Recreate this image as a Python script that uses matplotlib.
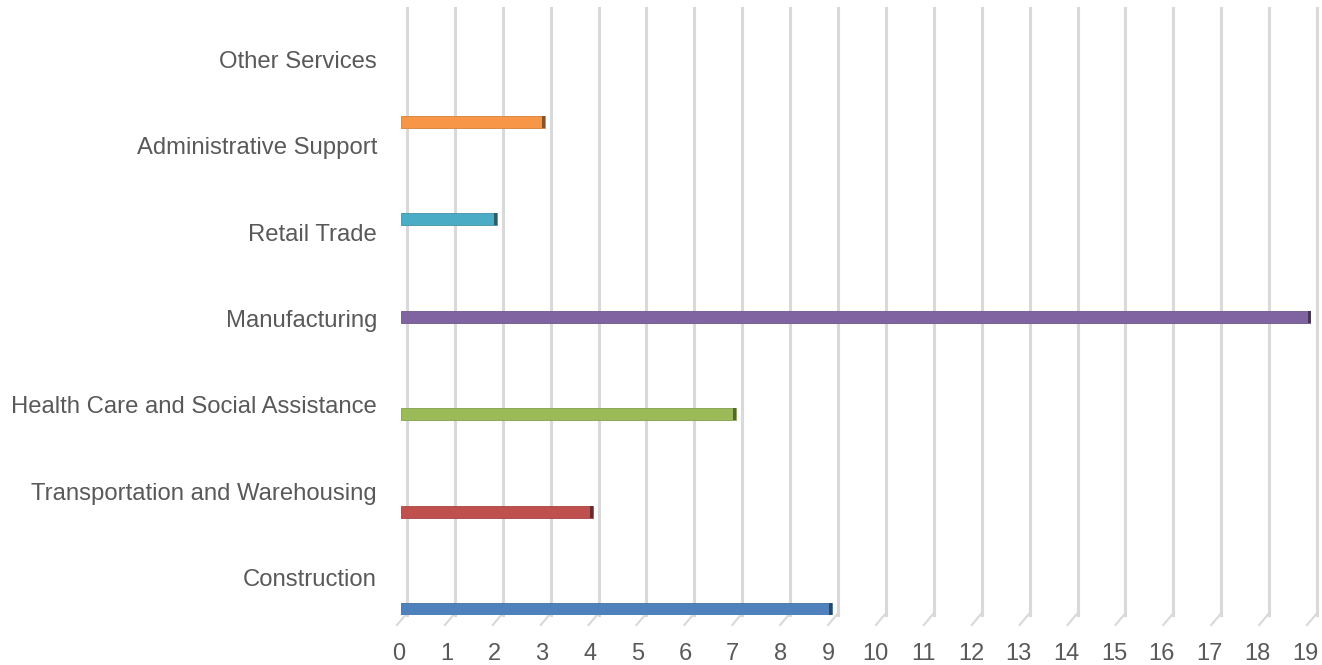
import matplotlib.pyplot as plt
from matplotlib.colors import to_rgb
import matplotlib.transforms as mtransforms

categories = ['Construction', 'Transportation and Warehousing', 'Health Care and Social Assistance',
              'Manufacturing', 'Retail Trade', 'Administrative Support', 'Other Services']
values = [9, 4, 7, 19, 2, 3, 0]
colors = ['#4F81BD', '#C0504D', '#9BBB59', '#8064A2', '#4BACC6', '#F79646', '#7F7F7F']
xticks = list(range(0, 20))

plt.rcParams['font.family'] = ['Liberation Sans', 'DejaVu Sans']

fig = plt.figure(figsize=(13.22, 6.65), dpi=100)
ax = fig.add_axes([399 / 1322, 1 - 615 / 665, (1311 - 399) / 1322, (615 - 8) / 665])

def darker(c, f=0.7):
    r, g, b = to_rgb(c)
    return (r * f, g * f, b * f)

px = 910 / 19  # pixels per unit on x
for i, (v, c) in enumerate(zip(values, colors)):
    if v > 0:
        ax.barh(i, v, height=0.123, color=c, edgecolor=darker(c, 0.85), linewidth=0.6, zorder=3)
        # dark end cap for the 3D look
        ax.barh(i, 3 / px, left=v - 3 / px, height=0.123, color=darker(c, 0.55),
                linewidth=0, zorder=4)

# tick labels sit on the front edge of the floor, slightly narrower than the bars' plane
label_pos = [(-2 + 47.68 * t) / px for t in xticks]
ax.set_xticks(label_pos)
ax.set_xticklabels([str(t) for t in xticks], fontsize=17, color='#595959')
ax.tick_params(axis='x', length=0, pad=20)
ax.set_yticks([])
ax.set_xlim(-2 / px, 19)
ax.set_ylim(-0.0616, 6.17)
for s in ax.spines.values():
    s.set_visible(False)

# back wall grid lines, shifted right a bit (perspective), with slanted floor ticks
trans = mtransforms.blended_transform_factory(ax.transData, ax.transAxes)
for t in xticks:
    g = t + 6 / px
    ax.plot([g, g], [0, 1], transform=trans, color='#D9D9D9', linewidth=2.2,
            clip_on=False, zorder=0)
    ax.plot([g, g - 10 / px], [0.003, -10 / 607], transform=trans, color='#D9D9D9',
            linewidth=1.5, clip_on=False, zorder=0)

# category labels sit above their bars
for i, name in enumerate(categories):
    ax.text(-0.5, 0.298 + 0.886 * i, name, ha='right', va='center', fontsize=17.2,
            color='#595959', clip_on=False)

fig.savefig('out.png', dpi=100)
